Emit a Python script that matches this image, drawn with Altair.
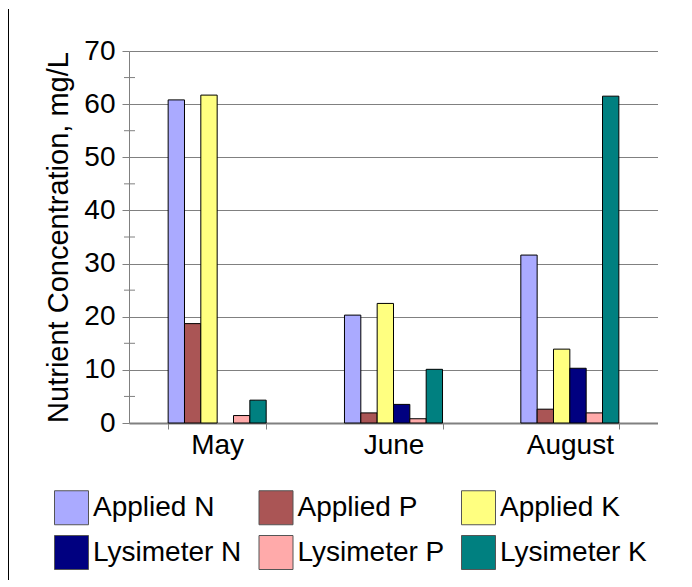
import altair as alt
import pandas as pd

months = ["May", "June", "August"]
series = ["Applied N", "Applied P", "Applied K", "Lysimeter N", "Lysimeter P", "Lysimeter K"]
colors = ["#AAAAFF", "#AA5555", "#FFFF80", "#000080", "#FFAAAA", "#008080"]

applied_n = [60.8, 20.3, 31.6]
applied_p = [18.7, 1.9, 2.6]
applied_k = [61.7, 22.5, 13.9]
lysimeter_n = [None, 3.5, 10.3]
lysimeter_p = [1.4, 0.8, 1.9]
lysimeter_k = [4.3, 10.1, 61.5]

y_ticks = [0, 10, 20, 30, 40, 50, 60, 70]
minor_ticks = [5, 15, 25, 35, 45, 55, 65]

all_vals = [applied_n, applied_p, applied_k, lysimeter_n, lysimeter_p, lysimeter_k]
rows = []
for s, vals in zip(series, all_vals):
    for m, v in zip(months, vals):
        if v is not None:
            rows.append({"month": m, "series": s, "value": v})
df = pd.DataFrame(rows)

FONT = "Liberation Sans"
YTITLE = "Nutrient Concentration, mg/L"
yscale = alt.Scale(domain=[0, 70], nice=False)

bars = alt.Chart(df).mark_bar(stroke="black", strokeWidth=1).encode(
    x=alt.X("month:N", sort=months, title=None,
            scale=alt.Scale(paddingInner=0.444, paddingOuter=0.222),
            axis=alt.Axis(labelAngle=0, labelFontSize=28, labelFont=FONT, labelColor="black",
                          labelPadding=2, tickBand="extent", tickSize=6, tickColor="#808080",
                          domainColor="#808080", domainWidth=2, grid=False)),
    xOffset=alt.XOffset("series:N", sort=series, scale=alt.Scale(domain=series, paddingInner=0, paddingOuter=0)),
    y=alt.Y("value:Q", scale=yscale, title=YTITLE,
            axis=alt.Axis(values=y_ticks, labelFontSize=28, labelFont=FONT, labelColor="black",
                          labelPadding=7, tickSize=7, tickColor="#808080", domainColor="#808080",
                          gridColor="#808080", gridWidth=1, titleFontSize=29, titleFont=FONT,
                          titleFontWeight="normal", titleColor="black", titlePadding=10)),
    color=alt.Color("series:N", sort=series,
                    scale=alt.Scale(domain=series, range=colors),
                    legend=alt.Legend(title=None, orient="none", legendX=-75, legendY=439,
                                      direction="horizontal", columns=3,
                                      symbolType="square", symbolSize=1156,
                                      symbolStrokeColor="#555555", symbolStrokeWidth=1,
                                      labelFontSize=28, labelFont=FONT, labelColor="black",
                                      labelOffset=4, columnPadding=14.5, rowPadding=6,
                                      labelLimit=300)),
)

minor = alt.Chart(pd.DataFrame({"v": minor_ticks})).mark_rule(color="#808080", strokeWidth=1).encode(
    y=alt.Y("v:Q", scale=yscale, title=YTITLE),
    x=alt.value(-5),
    x2=alt.value(6),
)

border = alt.Chart(pd.DataFrame({"a": [0]})).mark_rule(color="black", strokeWidth=1).encode(
    x=alt.value(-120.5),
    y=alt.value(-42),
    y2=alt.value(529),
)

chart = alt.layer(bars, minor, border).properties(
    width=529, height=372, padding=0
).configure_view(stroke=None)

chart.save("out.html", embed_options={"renderer": "svg", "actions": False})
